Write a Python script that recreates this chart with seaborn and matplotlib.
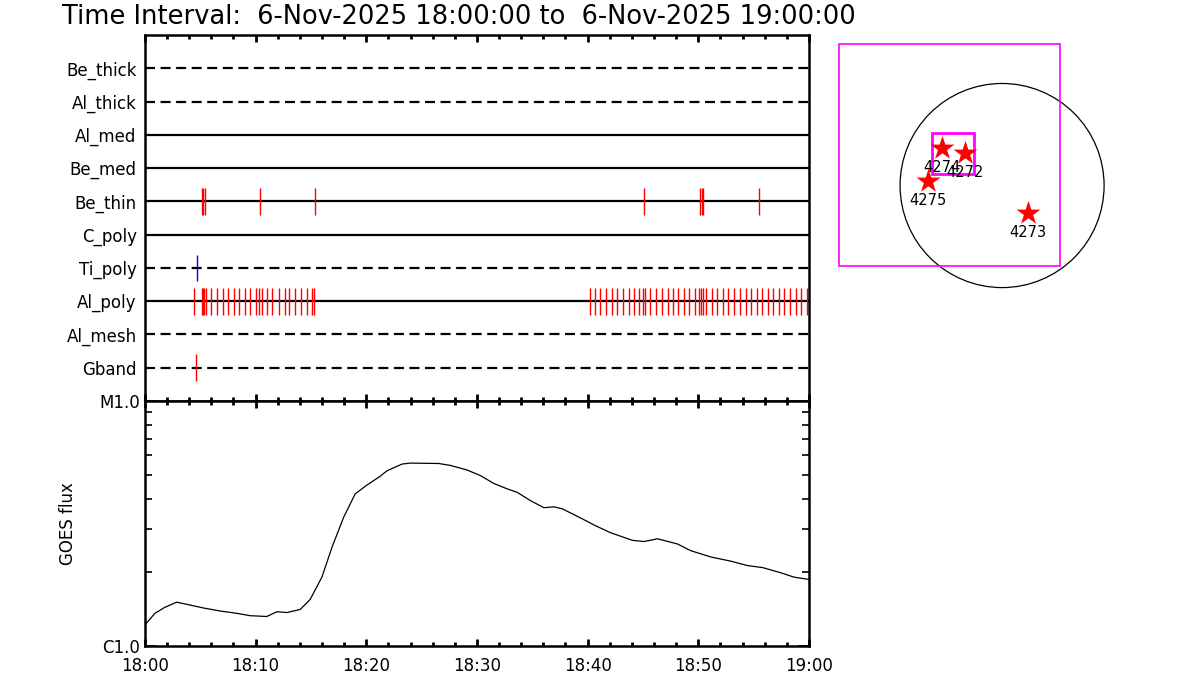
import matplotlib
matplotlib.use("Agg")
import matplotlib.pyplot as plt
from matplotlib.patches import Circle, Rectangle
from matplotlib.ticker import MultipleLocator, FixedLocator, NullFormatter
import seaborn as sns

# detector rows, listed top to bottom
detectors = ['Be_thick', 'Al_thick', 'Al_med', 'Be_med', 'Be_thin',
             'C_poly', 'Ti_poly', 'Al_poly', 'Al_mesh', 'Gband']
dashed_rows = ['Be_thick', 'Al_thick', 'Ti_poly', 'Al_mesh', 'Gband']

# event marks, minutes after 18:00
be_thin_min = [5.19, 5.28, 5.46, 10.43, 15.41, 45.10, 50.16, 50.32, 50.41, 55.51]
ti_poly_min = [4.73]
gband_min = [4.62]
al_poly_min = [4.46, 5.13, 5.22, 5.37, 5.55, 6.00, 6.54, 7.06, 7.54, 8.08, 8.53,
               9.08, 9.53, 10.07, 10.34, 10.62, 11.07, 11.52, 12.15, 12.61, 13.06,
               13.60, 14.14, 14.60, 15.14, 15.32,
               40.21, 40.66, 41.11, 41.66, 42.20, 42.65, 43.19, 43.74, 44.19, 44.64,
               45.00, 45.18, 45.64, 46.18, 46.72, 47.27, 47.72, 48.17, 48.71, 49.16,
               49.71, 50.07, 50.25, 50.43, 50.71, 51.25, 51.70, 52.24, 52.70, 53.24,
               53.78, 54.33, 54.78, 55.32, 55.77, 56.32, 56.77, 57.31, 57.76, 58.31,
               58.82, 59.30, 59.85]

# GOES flux curve (W/m^2)
goes_min = [0, 0.90, 1.81, 2.87, 3.77, 5.28, 6.79, 8.30, 9.50, 11.01, 11.92, 12.82,
            14.03, 14.93, 15.99, 16.90, 17.95, 19.00, 20.06, 21.20, 21.87, 23.23,
            23.98, 26.54, 27.60, 29.11, 30.32, 31.52, 32.73, 33.64, 34.84, 36.05,
            36.95, 37.71, 38.76, 40.12, 40.57, 42.08, 44.05, 45.10, 46.31, 48.12,
            49.32, 51.13, 52.94, 54.45, 55.81, 57.47, 58.67, 60.0]
goes_flux = [1.22e-6, 1.36e-6, 1.44e-6, 1.51e-6, 1.48e-6, 1.43e-6, 1.39e-6, 1.36e-6,
             1.33e-6, 1.32e-6, 1.38e-6, 1.37e-6, 1.41e-6, 1.55e-6, 1.91e-6, 2.53e-6,
             3.35e-6, 4.18e-6, 4.54e-6, 4.91e-6, 5.19e-6, 5.53e-6, 5.58e-6, 5.56e-6,
             5.46e-6, 5.23e-6, 4.96e-6, 4.61e-6, 4.38e-6, 4.24e-6, 3.92e-6, 3.67e-6,
             3.70e-6, 3.63e-6, 3.44e-6, 3.20e-6, 3.12e-6, 2.90e-6, 2.70e-6, 2.67e-6,
             2.74e-6, 2.61e-6, 2.45e-6, 2.31e-6, 2.22e-6, 2.13e-6, 2.09e-6, 1.99e-6,
             1.91e-6, 1.87e-6]

time_ticks = [0, 10, 20, 30, 40, 50, 60]
time_labels = ['18:00', '18:10', '18:20', '18:30', '18:40', '18:50', '19:00']
flux_ticks = [1e-6, 1e-5]
flux_labels = ['C1.0', 'M1.0']

# active regions on the disk (arcsec)
ar_nums = ['4274', '4272', '4275', '4273']
ar_x = [-562, -348, -699, 247]
ar_y = [350, 303, 45, -256]
sun_radius = 960
fov_big = [-1534, -760, 2080, 2089]    # x0, y0, width, height
fov_small = [-662, 108, 400, 390]

title = 'Time Interval:  6-Nov-2025 18:00:00 to  6-Nov-2025 19:00:00'

sns.set_style('ticks')
plt.rcParams['font.family'] = ['DejaVu Sans']
plt.rcParams['axes.linewidth'] = 1.8
for key in ['axes.edgecolor', 'text.color', 'xtick.color', 'ytick.color', 'axes.labelcolor']:
    plt.rcParams[key] = 'black'

fig = plt.figure(figsize=(12, 7), dpi=100)
fig.text(0.052, 0.976, title, fontsize=18.5, ha='left', va='center')

# --- top panel: detector event marks
ax = fig.add_axes([0.1208, 0.4271, 0.5533, 0.5229])
n = len(detectors)
for i, det in enumerate(detectors):
    y = n - i
    ls = (0, (4.5, 2.5)) if det in dashed_rows else '-'
    ax.hlines(y, 0, 60, color='black', lw=1.6, linestyles=ls)
events = {'Be_thin': (be_thin_min, 'red'), 'Ti_poly': (ti_poly_min, 'blue'),
          'Al_poly': (al_poly_min, 'red'), 'Gband': (gband_min, 'red')}
for det, (times, col) in events.items():
    y = n - detectors.index(det)
    ax.vlines(times, y - 0.4, y + 0.4, color=col, lw=1.0)
ax.set_xlim(0, 60)
ax.set_ylim(0, n + 1)
ax.set_yticks([n - i for i in range(n)])
ax.set_yticklabels(detectors, fontsize=12)
ax.tick_params(axis='y', length=0, pad=6)
ax.xaxis.set_major_locator(MultipleLocator(10))
ax.xaxis.set_minor_locator(MultipleLocator(2))
ax.tick_params(axis='x', which='both', direction='in', top=True, bottom=True,
               labelbottom=False, width=2)
ax.tick_params(axis='x', which='major', length=5)
ax.tick_params(axis='x', which='minor', length=3)

# --- bottom panel: GOES flux
ax2 = fig.add_axes([0.1208, 0.0771, 0.5533, 0.35])
sns.lineplot(x=goes_min, y=goes_flux, ax=ax2, color='black', lw=0.9)
ax2.set_yscale('log')
ax2.set_xlim(0, 60)
ax2.set_ylim(1e-6, 1e-5)
ax2.set_xticks(time_ticks)
ax2.set_xticklabels(time_labels, fontsize=12)
ax2.xaxis.set_minor_locator(MultipleLocator(2))
ax2.tick_params(axis='x', which='both', direction='in', top=True, bottom=True, width=2, pad=8)
ax2.tick_params(axis='x', which='major', length=5)
ax2.tick_params(axis='x', which='minor', length=3)
ax2.yaxis.set_major_locator(FixedLocator(flux_ticks))
ax2.set_yticklabels(flux_labels, fontsize=12)
ax2.yaxis.set_minor_locator(FixedLocator([k * 1e-6 for k in range(2, 10)]))
ax2.yaxis.set_minor_formatter(NullFormatter())
ax2.tick_params(axis='y', which='both', direction='in', left=True, right=True, width=1.2)
ax2.tick_params(axis='y', which='major', length=8)
ax2.tick_params(axis='y', which='minor', length=5)
ax2.set_ylabel('GOES flux', fontsize=12, labelpad=16)

# --- right panel: disk location
ax3 = fig.add_axes([0.6917, 0.5714, 0.2375, 0.3786])
ax3.add_patch(Circle((0, 0), sun_radius, fill=False, ec='black', lw=0.9))
ax3.add_patch(Rectangle(fov_big[:2], fov_big[2], fov_big[3], fill=False, ec='magenta', lw=1.2))
ax3.add_patch(Rectangle(fov_small[:2], fov_small[2], fov_small[3], fill=False, ec='magenta', lw=2))
sns.scatterplot(x=ar_x, y=ar_y, marker='*', s=330, color='red', linewidth=0, ax=ax3, zorder=3)
for num, x, y in zip(ar_nums, ar_x, ar_y):
    ax3.annotate(num, (x, y), xytext=(0, -14), textcoords='offset points',
                 ha='center', va='center', fontsize=10.5, zorder=4)
ax3.set_xlim(-1619, 1063)
ax3.set_ylim(-1077, 1416)
ax3.axis('off')

fig.savefig('out.png', dpi=100)
